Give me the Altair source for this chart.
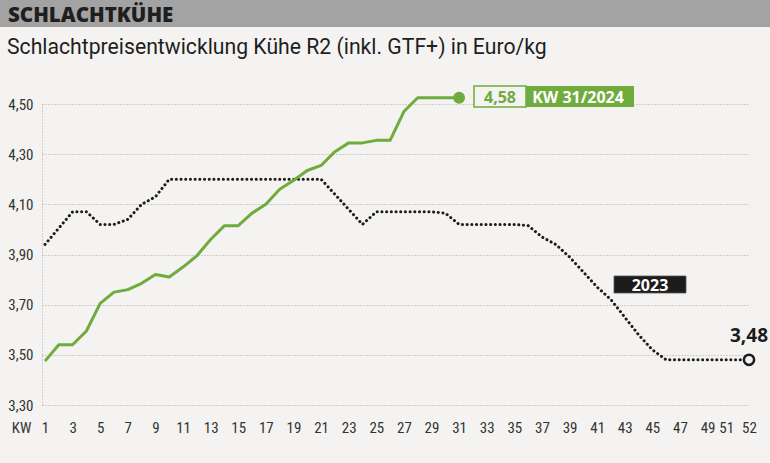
import altair as alt
import pandas as pd

# ---------------- data ----------------
weeks_2024 = list(range(1, 32))
price_2024 = [3.475, 3.54, 3.54, 3.595, 3.705, 3.75, 3.76, 3.785, 3.82, 3.81,
              3.85, 3.895, 3.96, 4.015, 4.015, 4.065, 4.10, 4.16, 4.195, 4.235,
              4.255, 4.31, 4.345, 4.345, 4.355, 4.355, 4.47, 4.525, 4.525, 4.525, 4.525]

weeks_2023 = list(range(1, 53))
price_2023 = [3.94, 4.005, 4.07, 4.07, 4.02, 4.02, 4.04, 4.10, 4.13, 4.20,
              4.20, 4.20, 4.20, 4.20, 4.20, 4.20, 4.20, 4.20, 4.20, 4.20,
              4.20, 4.14, 4.08, 4.02, 4.07, 4.07, 4.07, 4.07, 4.07, 4.065,
              4.02, 4.02, 4.02, 4.02, 4.02, 4.015, 3.97, 3.94, 3.89, 3.83,
              3.77, 3.72, 3.65, 3.58, 3.52, 3.48, 3.48, 3.48, 3.48, 3.48,
              3.48, 3.48]

y_ticks = [3.3, 3.5, 3.7, 3.9, 4.1, 4.3, 4.5]
x_ticks = list(range(1, 52, 2)) + [52]

header_text = "SCHLACHTKÜHE"
subtitle_text = "Schlachtpreisentwicklung Kühe R2 (inkl. GTF+) in Euro/kg"
latest_value_label = "4,58"
latest_week_label = "KW 31/2024"
series_2023_label = "2023"
end_2023_label = "3,48"

# ---------------- style ----------------
BG = "#f4f3f1"
GREEN = "#6fac3b"
DARK = "#1c1c1c"
GRID = "#a8a8a8"
AXFONT = "Roboto Condensed, Liberation Sans Narrow, DejaVu Sans Condensed, sans-serif"
HFONT = "Open Sans, Noto Sans, sans-serif"

df24 = pd.DataFrame({"KW": weeks_2024, "Preis": price_2024})
df23 = pd.DataFrame({"KW": weeks_2023, "Preis": price_2023})
last24 = df24.tail(1).assign(label=latest_value_label, wk=latest_week_label)
last23 = df23.tail(1).assign(label=end_2023_label)
one = pd.DataFrame({"a": [0]})

x_scale = alt.Scale(domain=[0.783, 52], nice=False, zero=False)
y_scale = alt.Scale(domain=[3.3, 4.5], nice=False, zero=False)

x_axis = alt.Axis(values=x_ticks, labelFont=AXFONT, labelFontSize=15, labelColor="#333",
                  labelPadding=22, labelBaseline="middle", ticks=False, tickSize=0,
                  labelOffset={"condition": {"test": "datum.value == 51", "value": -9}, "value": 0},
                  domain=False, grid=False, labelOverlap=False, labelFlush=False,
                  title="KW", titleX=-21, titleY=22, titleBaseline="middle",
                  titleAlign="center", titleFont=AXFONT, titleFontSize=15,
                  titleFontWeight="normal", titleColor="#333")
y_axis = alt.Axis(values=y_ticks, labelFont=AXFONT, labelFontSize=15, labelColor="#333",
                  labelExpr="replace(format(datum.value, '.2f'), '.', ',')",
                  labelPadding=9, ticks=False, tickSize=0, grid=True, gridColor=GRID,
                  gridDash=[1, 2], gridWidth=1, domain=True, domainColor=GRID,
                  domainDash=[1, 2], domainWidth=1, title=None)

X = alt.X("KW:Q", scale=x_scale, axis=x_axis)
Y = alt.Y("Preis:Q", scale=y_scale, axis=y_axis)

line23 = alt.Chart(df23).mark_line(
    color=DARK, strokeWidth=3, strokeDash=[0.1, 4.6], strokeCap="round"
).encode(x=X, y=Y)

line24 = alt.Chart(df24).mark_line(color=GREEN, strokeWidth=3, strokeJoin="round").encode(x=X, y=Y)

dot24 = alt.Chart(last24).mark_point(filled=True, color=GREEN, size=140, opacity=1).encode(x=X, y=Y)

dot23 = alt.Chart(last23).mark_point(filled=False, color=DARK, fill=BG, fillOpacity=1,
                                     strokeWidth=2.5, size=105, opacity=1).encode(x=X, y=Y)

end23_text = alt.Chart(last23).mark_text(
    font=HFONT, fontSize=19, fontWeight="bold", color=DARK, align="center",
    baseline="alphabetic", dy=-18
).encode(x=X, y=Y, text="label:N")

# header
header_bar = alt.Chart(one).mark_rect(color="#a3a3a3").encode(
    x=alt.value(-42), x2=alt.value(728), y=alt.value(-104), y2=alt.value(-77))
header = alt.Chart(one).mark_text(
    text=header_text, font=HFONT, fontSize=20.5, fontWeight=800, color="#1e1e1e",
    align="left", baseline="alphabetic").encode(x=alt.value(-34), y=alt.value(-82))
subtitle = alt.Chart(one).mark_text(
    text=subtitle_text, font="Roboto, sans-serif", fontSize=21.2, color="#1e1e1e",
    align="left", baseline="alphabetic").encode(x=alt.value(-35), y=alt.value(-50))

# callout for latest value
box_val = alt.Chart(one).mark_rect(fill=BG, stroke=GREEN, strokeWidth=1.5).encode(
    x=alt.value(432), x2=alt.value(484), y=alt.value(-18), y2=alt.value(3))
box_wk = alt.Chart(one).mark_rect(fill=GREEN).encode(
    x=alt.value(484), x2=alt.value(592), y=alt.value(-18), y2=alt.value(3))
txt_val = alt.Chart(last24).mark_text(
    font=HFONT, fontSize=16, fontWeight="bold", color=GREEN, align="center",
    baseline="alphabetic").encode(
    x=alt.value(458), y=alt.value(-1), text="label:N")
txt_wk = alt.Chart(last24).mark_text(
    font=HFONT, fontSize=16, fontWeight="bold", color="white", align="center",
    baseline="alphabetic").encode(
    x=alt.value(536), y=alt.value(-1), text="wk:N")

# 2023 label
box23 = alt.Chart(one).mark_rect(fill=DARK, stroke="#555", strokeWidth=0.8).encode(
    x=alt.value(572), x2=alt.value(644), y=alt.value(172), y2=alt.value(189))
txt23 = alt.Chart(one).mark_text(
    text=series_2023_label, font=HFONT, fontSize=16, fontWeight="bold", color="white",
    align="center", baseline="alphabetic").encode(x=alt.value(608), y=alt.value(187))

chart = alt.layer(
    line23, line24, dot24, dot23, end23_text,
    header_bar, header, subtitle,
    box_val, box_wk, txt_val, txt_wk, box23, txt23,
).properties(
    width=707, height=301,
    padding={"left": 42, "top": 104, "right": 21, "bottom": 58},
    autosize=alt.AutoSizeParams(type="none"),
    background=BG,
).configure_view(stroke=None)

chart.save("out.html", embed_options={"renderer": "svg", "actions": False})
